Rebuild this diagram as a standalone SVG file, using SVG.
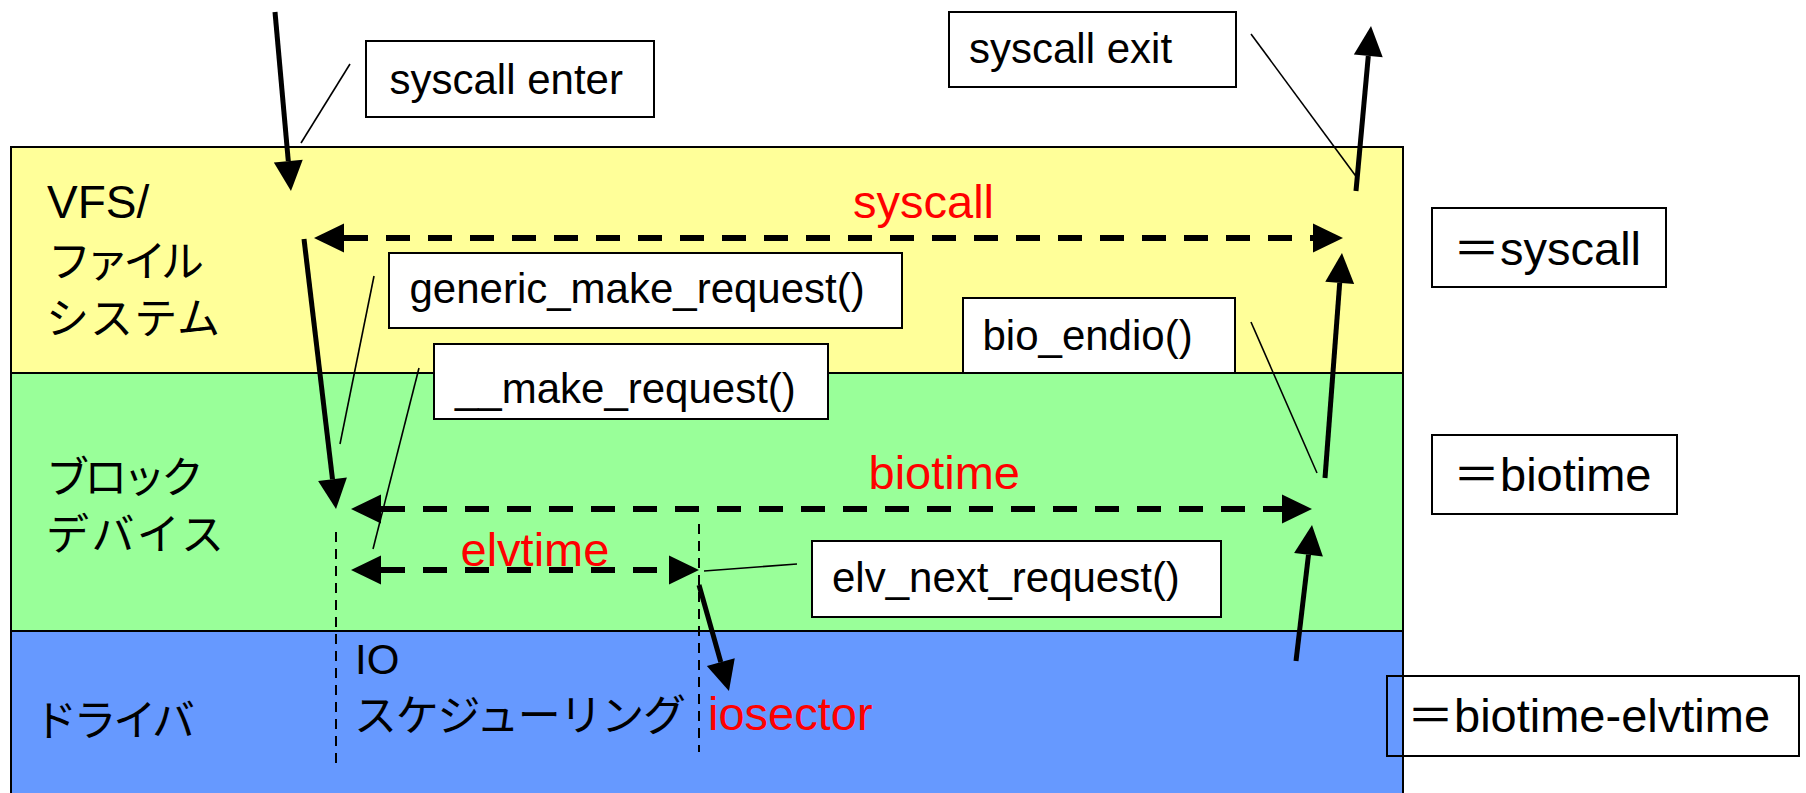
<svg xmlns="http://www.w3.org/2000/svg" width="1806" height="793" viewBox="0 0 1806 793">
  <style>
    .layer{stroke:#000;stroke-width:2}
    .box{fill:#fff;stroke:#000;stroke-width:2}
    .hollow{fill:none;stroke:#000;stroke-width:2}
    .lbl{font-family:"Liberation Sans",Arial,sans-serif;font-size:42px;fill:#000}
    .leg{font-family:"Liberation Sans","Noto Sans CJK JP",sans-serif;font-size:47px;fill:#000}
    .red{font-family:"Liberation Sans",Arial,sans-serif;font-size:47px;fill:#f00}
    .lat{font-family:"Liberation Sans",Arial,sans-serif;font-size:46px;fill:#000}
    .jp{font-family:"Noto Sans CJK JP",sans-serif;font-size:43px;fill:#000}
    .io{font-family:"Liberation Sans","Noto Sans CJK JP",sans-serif;font-size:42px;fill:#000}
    .thick{stroke:#000;stroke-width:5;fill:none;marker-end:url(#head)}
    .dash{stroke:#000;stroke-width:6;stroke-dasharray:24 18;fill:none;marker-start:url(#head);marker-end:url(#head)}
    .guide{stroke:#000;stroke-width:2;stroke-dasharray:10 7;fill:none}
    .call{stroke:#000;stroke-width:1.6;fill:none}
  </style>
  <defs>
    <marker id="head" viewBox="0 -15 30 30" refX="0" refY="0" markerWidth="30" markerHeight="30" markerUnits="userSpaceOnUse" orient="auto-start-reverse" overflow="visible">
      <path d="M0,-14.5 L30,0 L0,14.5 z" fill="#000" stroke="none"/>
    </marker>
  </defs>

  <!-- layers -->
  <g id="layer-vfs">
    <rect class="layer" x="11" y="147" width="1392" height="226" fill="#FFFF99"/>
    <text class="lat" x="47" y="218">VFS/</text>
    <text class="jp" x="48" y="277" textLength="156" lengthAdjust="spacing">ファイル</text>
    <text class="jp" x="46" y="334" textLength="174" lengthAdjust="spacing">システム</text>
  </g>
  <g id="layer-block">
    <rect class="layer" x="11" y="373" width="1392" height="258" fill="#99FF99"/>
    <text class="jp" x="46" y="493" textLength="158" lengthAdjust="spacing">ブロック</text>
    <text class="jp" x="46" y="550" textLength="178" lengthAdjust="spacing">デバイス</text>
  </g>
  <g id="layer-driver">
    <rect class="layer" x="11" y="631" width="1392" height="170" fill="#6699FF"/>
    <text class="jp" x="34" y="736" textLength="161" lengthAdjust="spacing">ドライバ</text>
    <text class="io" x="355" y="674">IO</text>
    <text class="jp" x="354" y="731" textLength="332" lengthAdjust="spacing">スケジューリング</text>
  </g>

  <!-- connectors -->
  <g id="connectors">
    <path class="guide" d="M336,532 V767"/>
    <path class="guide" d="M699,524 V752"/>

    <path class="thick" d="M275,12 L288.3,161.1"/>
    <path class="thick" d="M304,239 L332.5,479.2"/>
    <path class="thick" d="M699,585 L720.8,662.1"/>
    <path class="thick" d="M1296,661 L1308.5,554.8"/>
    <path class="thick" d="M1325,478 L1339.7,282.9"/>
    <path class="thick" d="M1356,191 L1368.3,55.9"/>

    <path class="dash" d="M344,238 H1313"/>
    <path class="dash" d="M381,509 H1282"/>
    <path class="dash" d="M381,570 H669"/>

    <path class="call" d="M350,64 L301,143"/>
    <path class="call" d="M1251,34 L1356.5,177"/>
    <path class="call" d="M374,276 L340,444"/>
    <path class="call" d="M419,368 L373,549"/>
    <path class="call" d="M1251,322 L1317,473"/>
    <path class="call" d="M704,571 L797,564"/>

    <text class="red" x="853" y="218">syscall</text>
    <text class="red" x="868.5" y="489">biotime</text>
    <text class="red" x="460.5" y="566">elvtime</text>
    <text class="red" x="708" y="730">iosector</text>
  </g>

  <!-- call-out boxes -->
  <g id="box-syscall-enter">
    <rect class="box" x="366" y="41" width="288" height="76"/>
    <text class="lbl" x="389.5" y="94">syscall enter</text>
  </g>
  <g id="box-syscall-exit">
    <rect class="box" x="949" y="12" width="287" height="75"/>
    <text class="lbl" x="969" y="63">syscall exit</text>
  </g>
  <g id="box-generic-make-request">
    <rect class="box" x="389" y="253" width="513" height="75"/>
    <text class="lbl" x="409.5" y="303">generic_make_request()</text>
  </g>
  <g id="box-make-request">
    <rect class="box" x="434" y="344" width="394" height="75"/>
    <text class="lbl" x="455" y="403">__make_request()</text>
  </g>
  <g id="box-bio-endio">
    <rect class="box" x="963" y="298" width="272" height="75"/>
    <text class="lbl" x="982.5" y="350">bio_endio()</text>
  </g>
  <g id="box-elv-next-request">
    <rect class="box" x="812" y="541" width="409" height="76"/>
    <text class="lbl" x="832" y="592">elv_next_request()</text>
  </g>

  <!-- legend -->
  <g id="legend-syscall">
    <rect class="box" x="1432" y="208" width="234" height="79"/>
    <text class="leg" x="1453" y="265">＝syscall</text>
  </g>
  <g id="legend-biotime">
    <rect class="box" x="1432" y="435" width="245" height="79"/>
    <text class="leg" x="1453" y="491">＝biotime</text>
  </g>
  <g id="legend-biotime-elvtime">
    <rect class="hollow" x="1387" y="676" width="412" height="80"/>
    <text class="leg" x="1407" y="732">＝biotime-elvtime</text>
  </g>
</svg>
